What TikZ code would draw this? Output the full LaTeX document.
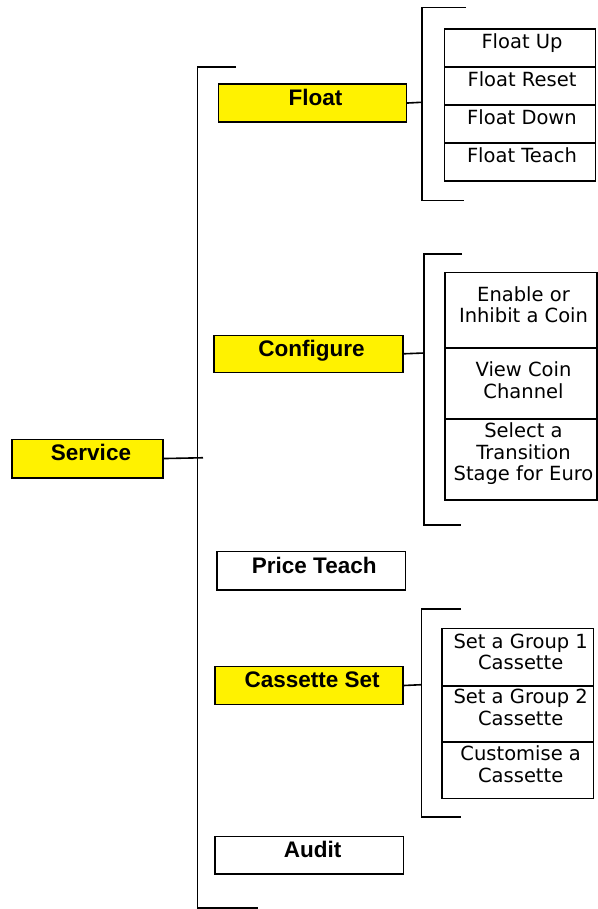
\documentclass[tikz,border=0pt]{standalone}
\usepackage{fontspec}
\setmainfont{DejaVu Sans}
\newfontfamily\labfont{Liberation Sans}
\begin{document}
\begin{tikzpicture}[x=1pt,y=-1pt,
  ln/.style={line width=1.6pt},
  ybox/.style={draw, line width=1.6pt, fill=yellow, inner sep=0pt, anchor=north west},
  wbox/.style={draw, line width=1.6pt, fill=white, inner sep=0pt, anchor=north west},
  lab/.style={inner sep=0pt, anchor=base, font=\labfont\bfseries\fontsize{22.5}{25}\selectfont},
  subtxt/.style={inner sep=0pt, anchor=north, align=center, font=\fontsize{19.5}{21.3}\selectfont}]
\useasboundingbox (0,0) rectangle (597,909);

% main level boxes
\node[ybox, minimum width=151, minimum height=38.5] (service) at (11,438.5) {};
\node[lab] (serviceL) at (91,460.5) {Service};
\node[ybox, minimum width=188, minimum height=37.5] (float) at (217.5,83.5) {};
\node[lab] (floatL) at (315.5,105.5) {Float};
\node[ybox, minimum width=189, minimum height=37] (config) at (213,334.5) {};
\node[lab] (configL) at (311.5,356.5) {Configure};
\node[wbox, minimum width=188.5, minimum height=38.3] (price) at (216,550.7) {};
\node[lab] (priceL) at (314.2,573) {Price Teach};
\node[ybox, minimum width=188.3, minimum height=38] (cass) at (214,665.7) {};
\node[lab] (cassL) at (312.2,687.5) {Cassette Set};
\node[wbox, minimum width=188.7, minimum height=37.6] (audit) at (214,835.7) {};
\node[lab] (auditL) at (312.5,857.5) {Audit};

% main bracket
\coordinate (mTop) at (236,67);
\coordinate (mTL) at (197.5,67);
\coordinate (mBL) at (197.5,908);
\coordinate (mBot) at (258,908);
\coordinate (mJ) at (203,457.75);
\draw[ln] (mTop) -- (mTL) -- (mBL) -- (mBot);
\draw[ln] (service.east) -- (mJ);

% Float sub boxes
\node[wbox, minimum width=151, minimum height=37.5] (f1) at (443.5,28.5) {};
\node[wbox, minimum width=151, minimum height=38.5] (f2) at (443.5,66) {};
\node[wbox, minimum width=151, minimum height=38] (f3) at (443.5,104.5) {};
\node[wbox, minimum width=151, minimum height=37.5] (f4) at (443.5,142.5) {};
\node[subtxt] (f1t) at (522,33.5) {Float Up};
\node[subtxt] (f2t) at (522,71.2) {Float Reset};
\node[subtxt] (f3t) at (522,109.2) {Float Down};
\node[subtxt] (f4t) at (522,147.5) {Float Teach};
\coordinate (fTop) at (466,7.5);
\coordinate (fTL) at (422,7.5);
\coordinate (fBL) at (422,200.5);
\coordinate (fBot) at (464,200.5);
\coordinate (fJ) at (422,102.25);
\draw[ln] (fTop) -- (fTL) -- (fBL) -- (fBot);
\draw[ln] (float.east) -- (fJ);

% Configure sub boxes
\node[wbox, minimum width=152, minimum height=75.6] (c1) at (444,271.7) {};
\node[wbox, minimum width=152, minimum height=70.7] (c2) at (444,347.3) {};
\node[wbox, minimum width=152, minimum height=81.3] (c3) at (444,418) {};
\node[subtxt] (c1t) at (523.5,286.2) {Enable or\\Inhibit a Coin};
\node[subtxt] (c2t) at (523.5,361.9) {View Coin\\Channel};
\node[subtxt] (c3t) at (523.5,422.9) {Select a\\Transition\\Stage for Euro};
\coordinate (cTop) at (462,254);
\coordinate (cTL) at (424,254);
\coordinate (cBL) at (424,525);
\coordinate (cBot) at (461,525);
\coordinate (cJ) at (424,353);
\draw[ln] (cTop) -- (cTL) -- (cBL) -- (cBot);
\draw[ln] (config.east) -- (cJ);

% Cassette sub boxes
\node[wbox, minimum width=151.7, minimum height=57.3] (s1) at (441,627.7) {};
\node[wbox, minimum width=151.7, minimum height=56] (s2) at (441,685) {};
\node[wbox, minimum width=151.7, minimum height=56.7] (s3) at (441,741) {};
\node[subtxt] (s1t) at (520.7,633.5) {Set a Group 1\\Cassette};
\node[subtxt] (s2t) at (520.7,689.2) {Set a Group 2\\Cassette};
\node[subtxt] (s3t) at (520.7,745.9) {Customise a\\Cassette};
\coordinate (sTop) at (461,609);
\coordinate (sTL) at (421.5,609);
\coordinate (sBL) at (421.5,816.7);
\coordinate (sBot) at (461,816.7);
\coordinate (sJ) at (421.5,684.7);
\draw[ln] (sTop) -- (sTL) -- (sBL) -- (sBot);
\draw[ln] (cass.east) -- (sJ);
\end{tikzpicture}
\end{document}
